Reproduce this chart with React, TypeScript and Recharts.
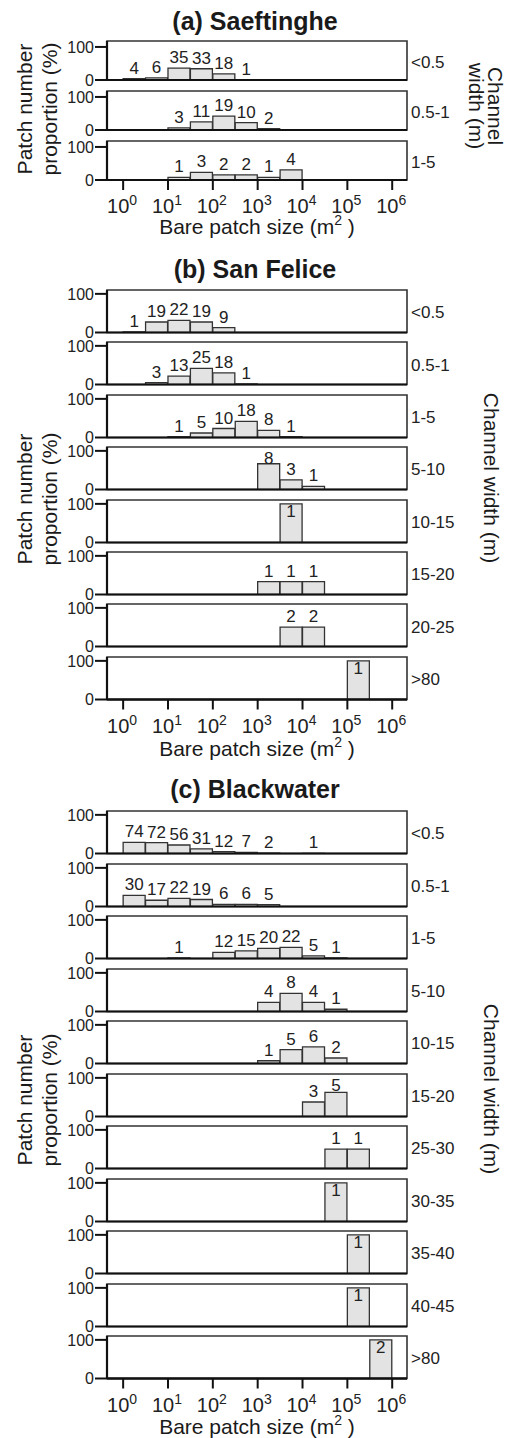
import React from 'react';
import { BarChart, Bar, XAxis, YAxis, LabelList, ReferenceArea, ReferenceLine } from 'recharts';

const FONT = '"Liberation Sans", Arial, Helvetica, sans-serif';

// log10 of the lower edge of each half-decade size class
const BIN_START = [0, 0.5, 1, 1.5, 2, 2.5, 3, 3.5, 4, 4.5, 5, 5.5];
const BIN_WIDTH = 0.5;
const X_DOMAIN = [-0.36, 6.33];
const X_TICKS = [0, 1, 2, 3, 4, 5, 6];
const Y_TICKS = [0, 100];

// patch counts per size class (null = no patches)
const SAEFTINGHE_WIDTHS = ['<0.5', '0.5-1', '1-5'];
const SAEFTINGHE_COUNTS = [
  [4, 6, 35, 33, 18, 1, null, null, null, null, null, null],
  [null, null, 3, 11, 19, 10, 2, null, null, null, null, null],
  [null, null, 1, 3, 2, 2, 1, 4, null, null, null, null],
];

const SAN_FELICE_WIDTHS = ['<0.5', '0.5-1', '1-5', '5-10', '10-15', '15-20', '20-25', '>80'];
const SAN_FELICE_COUNTS = [
  [1, 19, 22, 19, 9, null, null, null, null, null, null, null],
  [null, 3, 13, 25, 18, 1, null, null, null, null, null, null],
  [null, null, 1, 5, 10, 18, 8, 1, null, null, null, null],
  [null, null, null, null, null, null, 8, 3, 1, null, null, null],
  [null, null, null, null, null, null, null, 1, null, null, null, null],
  [null, null, null, null, null, null, 1, 1, 1, null, null, null],
  [null, null, null, null, null, null, null, 2, 2, null, null, null],
  [null, null, null, null, null, null, null, null, null, null, 1, null],
];

const BLACKWATER_WIDTHS = ['<0.5', '0.5-1', '1-5', '5-10', '10-15', '15-20', '25-30', '30-35', '35-40', '40-45', '>80'];
const BLACKWATER_COUNTS = [
  [74, 72, 56, 31, 12, 7, 2, null, 1, null, null, null],
  [30, 17, 22, 19, 6, 6, 5, null, null, null, null, null],
  [null, null, 1, null, 12, 15, 20, 22, 5, 1, null, null],
  [null, null, null, null, null, null, 4, 8, 4, 1, null, null],
  [null, null, null, null, null, null, 1, 5, 6, 2, null, null],
  [null, null, null, null, null, null, null, null, 3, 5, null, null],
  [null, null, null, null, null, null, null, null, null, 1, 1, null],
  [null, null, null, null, null, null, null, null, null, 1, null, null],
  [null, null, null, null, null, null, null, null, null, null, 1, null],
  [null, null, null, null, null, null, null, null, null, null, 1, null],
  [null, null, null, null, null, null, null, null, null, null, null, 2],
];

const PANELS = [
  {
    title: '(a) Saeftinghe', titleY: 30, widths: SAEFTINGHE_WIDTHS, counts: SAEFTINGHE_COUNTS,
    top: 41, pitch: 50, boxH: 39, yMax: 118, xTitleY: 234, yTitleY: 109, channelY: 106, splitChannel: true,
  },
  {
    title: '(b) San Felice', titleY: 278, widths: SAN_FELICE_WIDTHS, counts: SAN_FELICE_COUNTS,
    top: 290, pitch: 52.4, boxH: 42.5, yMax: 110, xTitleY: 756, yTitleY: 499, channelY: 478, splitChannel: false,
  },
  {
    title: '(c) Blackwater', titleY: 798, widths: BLACKWATER_WIDTHS, counts: BLACKWATER_COUNTS,
    top: 811, pitch: 52.5, boxH: 42.5, yMax: 110, xTitleY: 1434, yTitleY: 1100, channelY: 1089, splitChannel: false,
  },
];

const PLOT_LEFT = 107;
const PLOT_RIGHT = 407;
const M_TOP = 12;
const X_AXIS_H = 40;

const PowerTick = (props: any) => {
  const { x, y, payload } = props;
  return (
    <text x={x - 1} y={y + 23} textAnchor="middle" fontSize={20} fill="#222" fontFamily={FONT}>
      10<tspan dy={-8} fontSize={14}>{payload.value}</tspan>
    </text>
  );
};

const RowChart = ({ counts, top, boxH, yMax, showX }: any) => {
  const total = counts.reduce((s: number, c: number | null) => s + (c ?? 0), 0);
  const data = BIN_START.map((b, i) => ({
    mid: b + BIN_WIDTH / 2,
    n: counts[i],
    pct: counts[i] == null ? null : (counts[i] / total) * 100,
  }));
  const mBottom = showX ? 2 : 12;
  const height = M_TOP + boxH + (showX ? X_AXIS_H : 0) + mBottom;

  const renderLabel = (p: any) => {
    if (p.value == null) return null;
    const cx = p.x + p.width / 2;
    const baseline = Math.max(p.y - 5, M_TOP + 17);
    return (
      <text x={cx} y={baseline} textAnchor="middle" fontSize={17} fill="#222" fontFamily={FONT}>
        {p.value}
      </text>
    );
  };

  return (
    <div style={{ position: 'absolute', left: 0, top: top - M_TOP }}>
      <BarChart
        width={506}
        height={height}
        data={data}
        margin={{ top: M_TOP, right: 506 - PLOT_RIGHT, bottom: mBottom, left: PLOT_LEFT - 107 }}
        barCategoryGap={0}
        barGap={0}
      >
        <XAxis
          dataKey="mid"
          type="number"
          domain={X_DOMAIN}
          allowDataOverflow
          ticks={X_TICKS}
          hide={!showX}
          height={X_AXIS_H}
          tick={<PowerTick />}
          tickLine={{ stroke: '#111', strokeWidth: 2 }}
          tickSize={10}
          tickMargin={0}
          axisLine={{ stroke: '#111', strokeWidth: 2 }}
        />
        <YAxis
          type="number"
          domain={[0, yMax]}
          allowDataOverflow
          ticks={Y_TICKS}
          width={107}
          tickSize={12}
          tickMargin={1}
          tick={{ fontSize: 16, fill: '#222', fontFamily: FONT }}
          tickLine={{ stroke: '#111', strokeWidth: 2 }}
          axisLine={{ stroke: '#111', strokeWidth: 2.2 }}
        />
        <ReferenceArea
          x1={X_DOMAIN[0]}
          x2={X_DOMAIN[1]}
          y1={0}
          y2={yMax}
          fill="none"
          fillOpacity={0}
          stroke="#333"
          strokeWidth={1.6}
          ifOverflow="visible"
        />
        <ReferenceLine y={0} stroke="#111" strokeWidth={2.2} ifOverflow="visible" />
        <Bar dataKey="pct" fill="#e3e3e3" stroke="#333" strokeWidth={1.3} isAnimationActive={false}>
          <LabelList dataKey="n" content={renderLabel} />
        </Bar>
      </BarChart>
    </div>
  );
};

const App = () => {
  return (
    <div style={{ position: 'absolute', left: 0, top: 0, width: 506, height: 1438, background: '#fff' }}>
      <svg width={506} height={1438} style={{ position: 'absolute', left: 0, top: 0 }} fontFamily={FONT} fill="#1a1a1a">
        {PANELS.map((p) => (
          <g key={p.title}>
            <text x={255} y={p.titleY} textAnchor="middle" fontSize={25} fontWeight="bold">{p.title}</text>
            {p.widths.map((w, i) => (
              <text key={w + i} x={411} y={p.top + i * p.pitch + p.boxH / 2 + 7} fontSize={17} fill="#222">{w}</text>
            ))}
            <g transform={`translate(0, ${p.yTitleY})`}>
              <text transform="translate(32, 0) rotate(-90)" textAnchor="middle" fontSize={21}>Patch number</text>
              <text transform="translate(57, 0) rotate(-90)" textAnchor="middle" fontSize={21}>proportion (%)</text>
            </g>
            {p.splitChannel ? (
              <g transform={`translate(0, ${p.channelY})`}>
                <text transform="translate(488, 0) rotate(90)" textAnchor="middle" fontSize={21}>Channel</text>
                <text transform="translate(469, 0) rotate(90)" textAnchor="middle" fontSize={21}>width (m)</text>
              </g>
            ) : (
              <text transform={`translate(484, ${p.channelY}) rotate(90)`} textAnchor="middle" fontSize={21}>Channel width (m)</text>
            )}
            <text x={257} y={p.xTitleY} textAnchor="middle" fontSize={21}>
              Bare patch size (m<tspan dy={-9} fontSize={14}>2</tspan><tspan dy={9}> )</tspan>
            </text>
          </g>
        ))}
      </svg>
      {PANELS.map((p) =>
        p.counts.map((c, i) => (
          <RowChart
            key={p.title + i}
            counts={c}
            top={p.top + i * p.pitch}
            boxH={p.boxH}
            yMax={p.yMax}
            showX={i === p.counts.length - 1}
          />
        ))
      )}
    </div>
  );
};

export default App;
